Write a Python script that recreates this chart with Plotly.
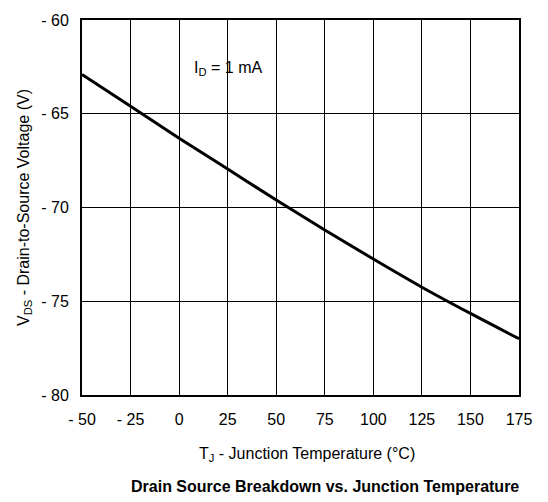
import plotly.graph_objects as go

temps = [-50, -25, 0, 25, 50, 75, 100, 125, 150, 175]
vds = [-62.9, -64.6, -66.3, -67.95, -69.6, -71.2, -72.75, -74.25, -75.65, -77.0]

x_ticks = [-50, -25, 0, 25, 50, 75, 100, 125, 150, 175]
x_labels = ["- 50", "- 25", "0", "25", "50", "75", "100", "125", "150", "175"]
y_ticks = [-80, -75, -70, -65, -60]
y_labels = ["- 80", "- 75", "- 70", "- 65", "- 60"]

font = "Liberation Sans, Arial, Helvetica, sans-serif"

fig = go.Figure()
fig.add_trace(go.Scatter(x=temps, y=vds, mode="lines",
                         line=dict(color="black", width=3, shape="spline", smoothing=1.0),
                         showlegend=False, hoverinfo="skip"))

fig.update_layout(
    width=548, height=502,
    margin=dict(l=82, r=29, t=15, b=107),
    paper_bgcolor="white", plot_bgcolor="white",
    font=dict(family=font, size=16, color="black"),
    xaxis=dict(range=[-50, 175], tickvals=x_ticks, ticktext=x_labels,
               showgrid=True, gridcolor="black", gridwidth=1,
               showline=True, linecolor="black", linewidth=2, mirror=True,
               ticks="", zeroline=False, ticklabelstandoff=9,
               tickfont=dict(size=16)),
    yaxis=dict(range=[-80, -60], tickvals=y_ticks, ticktext=y_labels,
               showgrid=True, gridcolor="black", gridwidth=1,
               showline=True, linecolor="black", linewidth=2, mirror=True,
               ticks="", zeroline=False, ticklabelstandoff=8,
               tickfont=dict(size=16),
               title=dict(text="V<sub>DS</sub> - Drain-to-Source Voltage (V)",
                          font=dict(size=16), standoff=8)),
    annotations=[
        dict(x=25, y=-62.6, xref="x", yref="y", showarrow=False,
             text="I<sub>D</sub> = 1 mA", font=dict(size=16)),
        dict(x=0.515, y=-0.158, xref="paper", yref="paper", showarrow=False,
             text="T<sub>J</sub> - Junction Temperature (°C)",
             font=dict(size=16), xanchor="center", yanchor="middle"),
        dict(x=0.555, y=-0.245, xref="paper", yref="paper", showarrow=False,
             text="<b>Drain Source Breakdown vs. Junction Temperature</b>",
             font=dict(size=16), xanchor="center", yanchor="middle"),
    ],
)

fig.write_html("out.html")
